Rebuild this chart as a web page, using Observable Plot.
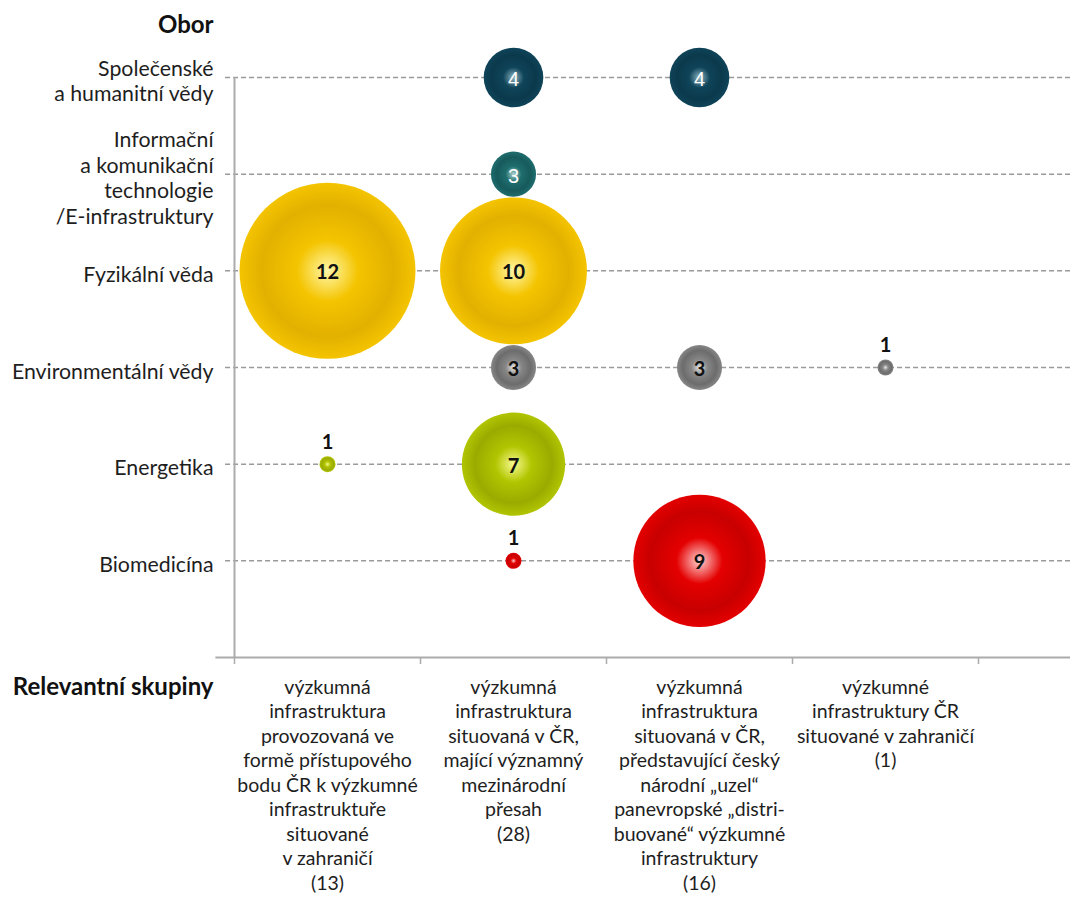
<!DOCTYPE html>
<html>
<head>
<meta charset="utf-8">
<script src="https://cdn.jsdelivr.net/npm/d3@7"></script>
<script src="https://cdn.jsdelivr.net/npm/@observablehq/plot@0.6"></script>
<style>
  html, body { margin: 0; padding: 0; background: #fff; }
  #chart { width: 1070px; height: 900px; }
  svg { font-family: Lato, "Open Sans", sans-serif; }
</style>
</head>
<body>
<div id="chart"></div>
<script>
// Categories (rows, top to bottom) — "Obor"
const obor = [
  "Společenské\na humanitní vědy",
  "Informační\na komunikační\ntechnologie\n/E-infrastruktury",
  "Fyzikální věda",
  "Environmentální vědy",
  "Energetika",
  "Biomedicína"
];
// Column groups — "Relevantní skupiny"
const skupiny = [
  "výzkumná\ninfrastruktura\nprovozovaná ve\nformě přístupového\nbodu ČR k výzkumné\ninfrastruktuře\nsituované\nv zahraničí\n(13)",
  "výzkumná\ninfrastruktura\nsituovaná v ČR,\nmající významný\nmezinárodní\npřesah\n(28)",
  "výzkumná\ninfrastruktura\nsituovaná v ČR,\npředstavující český\nnárodní „uzel“\npanevropské „distri-\nbuované“ výzkumné\ninfrastruktury\n(16)",
  "výzkumné\ninfrastruktury ČR\nsituované v zahraničí\n(1)"
];
// Counts per row, one value per column group (0 = no bubble)
const spolecenske     = [0, 4, 4, 0];
const informacni      = [0, 3, 0, 0];
const fyzikalni       = [12, 10, 0, 0];
const environmentalni = [0, 3, 3, 1];
const energetika      = [1, 7, 0, 0];
const biomedicina     = [0, 1, 9, 0];
const rowValues = [spolecenske, informacni, fyzikalni, environmentalni, energetika, biomedicina];
// Row colours: [highlight, base, shade]
const rowColors = [
  ["#8fb6c3", "#0f4459", "#0b394c"],
  ["#a8d2cd", "#1f6d6e", "#175a5b"],
  ["#fff7a8", "#f4c400", "#e2b000"],
  ["#e6e6e6", "#878787", "#6c6c6c"],
  ["#f6fa90", "#b2c500", "#9aab00"],
  ["#ffd0d0", "#e40000", "#c80000"]
];
const darkRows = [0, 1];

const nRows = obor.length;
const data = [];
rowValues.forEach((vals, r) => {
  vals.forEach((v, c) => {
    if (v > 0) data.push({row: r, y: nRows - r, x: c + 0.5, value: v});
  });
});
const bigDark = data.filter(d => d.value > 1 && darkRows.includes(d.row));
const bigLight = data.filter(d => d.value > 1 && !darkRows.includes(d.row));
const small = data.filter(d => d.value === 1);

const font = "Lato, 'Open Sans', sans-serif";
const gridColor = "#9a9a9a";
const axisColor = "#ababab";

const plot = Plot.plot({
  width: 1070,
  height: 900,
  marginLeft: 234,
  marginRight: 92,
  marginTop: 77,
  marginBottom: 243,
  style: {fontFamily: font, background: "#fff", overflow: "visible"},
  x: {type: "linear", domain: [0, 4], axis: null},
  y: {type: "linear", domain: [0, nRows], axis: null},
  r: {type: "linear", domain: [1, 12], range: [8, 88]},
  color: {type: "identity"},
  marks: [
    // dashed gridlines for each row
    Plot.ruleY(obor, {y: (d, i) => nRows - i, x1: -0.048, x2: 4.5, stroke: gridColor, strokeWidth: 1.5, strokeDasharray: "5,3"}),
    // y axis line
    Plot.ruleX([0], {y1: 0, y2: nRows, stroke: axisColor, strokeWidth: 2}),
    // x axis line
    Plot.ruleY([0], {x1: -0.1, x2: 4.5, stroke: axisColor, strokeWidth: 2}),
    // x ticks at group boundaries
    Plot.axisX({ticks: [0, 1, 2, 3, 4], tickFormat: () => "", tickSize: 7, stroke: axisColor, strokeWidth: 1.5, label: null}),
    // y tick labels
    Plot.text(obor, {
      x: 0, y: (d, i) => nRows - i, text: d => d,
      dx: -21, dy: 3, textAnchor: "end", lineAnchor: "middle", lineHeight: 1.2,
      fontSize: 21.3, fill: "#1e1e1e"
    }),
    // x tick labels
    Plot.text(skupiny, {
      x: (d, i) => i + 0.5, y: 0, text: d => d,
      dy: 19, textAnchor: "middle", lineAnchor: "top", lineHeight: 1.255,
      fontSize: 19.5, fill: "#1e1e1e"
    }),
    // axis titles
    Plot.text(["Obor"], {x: 0, y: nRows, text: d => d, dx: -21, dy: -52, textAnchor: "end", lineAnchor: "middle", fontSize: 24, fontWeight: "bold", fill: "#111"}),
    Plot.text(["Relevantní skupiny"], {x: 0, y: 0, text: d => d, dx: -21, dy: 30, textAnchor: "end", lineAnchor: "middle", fontSize: 24, fontWeight: "bold", fill: "#111"}),
    // bubbles
    Plot.dot(data, {x: "x", y: "y", r: "value", fill: d => `url(#grad${d.row})`, stroke: "none"}),
    // labels inside bubbles
    Plot.text(bigLight, {x: "x", y: "y", text: d => String(d.value), fill: "#111111", fontWeight: "bold", fontSize: 20, dy: 2}),
    Plot.text(bigDark, {x: "x", y: "y", text: d => String(d.value), fill: "#ffffff", fontFamily: "Liberation Sans, Arial, sans-serif", fontSize: 20, dy: 2}),
    // labels above small bubbles
    Plot.text(small, {x: "x", y: "y", text: d => String(d.value), dy: -22, fontSize: 20, fontWeight: "bold", fill: "#111111"})
  ]
});

// radial gradients for the sphere look
const svg = d3.select(plot);
const defs = svg.insert("defs", ":first-child");
rowColors.forEach(([hi, base, shade], i) => {
  const g = defs.append("radialGradient")
    .attr("id", `grad${i}`)
    .attr("cx", "50%").attr("cy", "50%").attr("r", "50%")
    .attr("fx", "50%").attr("fy", "50%");
  g.append("stop").attr("offset", "0%").attr("stop-color", hi);
  g.append("stop").attr("offset", "35%").attr("stop-color", base);
  g.append("stop").attr("offset", "75%").attr("stop-color", shade);
  g.append("stop").attr("offset", "100%").attr("stop-color", base);
});

document.getElementById("chart").appendChild(plot);
</script>
</body>
</html>
